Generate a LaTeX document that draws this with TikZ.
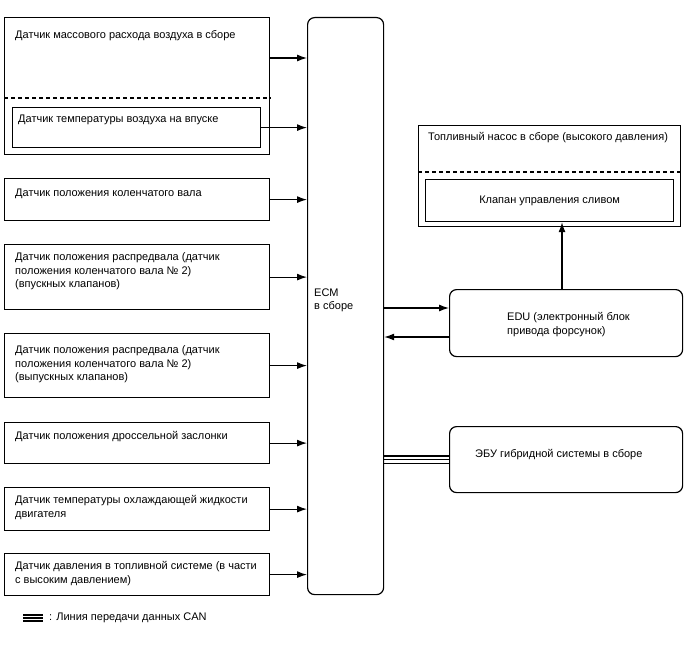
\documentclass[tikz,border=0pt]{standalone}
\usepackage{fontspec}
\setmainfont{Liberation Sans}
\usetikzlibrary{arrows.meta,calc}
\begin{document}
\begin{tikzpicture}[x=1pt,y=-1pt,
  box/.style={draw,line width=1.2pt,anchor=north west,inner sep=0pt},
  rbox/.style={box,rounded corners=7pt},
  txt/.style={anchor=north west,inner sep=0pt,align=left,font=\fontsize{11}{13.6}\selectfont},
  ctxt/.style={inner sep=0pt,align=left,font=\fontsize{11}{13.6}\selectfont},
  arr/.style={line width=1.2pt,-{Latex[length=10pt,width=7pt]}},
  ln/.style={line width=1.1pt},
  dsh/.style={line width=1.1pt,dash pattern=on 4pt off 3pt}]
\useasboundingbox (0,0) rectangle (688,658);
% ECM
\node[rbox,minimum width=76pt,minimum height=577pt] (ecm) at (307,17) {};
\node[txt] (ecmt) at (314,288.5) {ECM\\в сборе};
% MAF / IAT
\node[box,minimum width=265pt,minimum height=137pt] (maf) at (4,17) {};
\node[txt] (maft) at (15,30.5) {Датчик массового расхода воздуха в сборе};
\draw[dsh] (maf.west |- 0,98) coordinate (d1) -- (maf.east |- 0,98) coordinate (d2);
\node[box,minimum width=248pt,minimum height=40pt] (iat) at (12,107) {};
\node[txt] (iatt) at (18,114.5) {Датчик температуры воздуха на впуске};
% other sensors
\node[box,minimum width=265pt,minimum height=42pt] (crank) at (4,178) {};
\node[txt] (crankt) at (15,188.5) {Датчик положения коленчатого вала};
\node[box,minimum width=265pt,minimum height=65pt] (camin) at (4,244) {};
\node[txt] (camint) at (15,252.5) {Датчик положения распредвала (датчик\\положения коленчатого вала № 2)\\(впускных клапанов)};
\node[box,minimum width=265pt,minimum height=64pt] (camex) at (4,333) {};
\node[txt] (camext) at (15,345.5) {Датчик положения распредвала (датчик\\положения коленчатого вала № 2)\\(выпускных клапанов)};
\node[box,minimum width=265pt,minimum height=41pt] (thr) at (4,422) {};
\node[txt] (thrt) at (15,431.5) {Датчик положения дроссельной заслонки};
\node[box,minimum width=265pt,minimum height=43pt] (cool) at (4,487) {};
\node[txt] (coolt) at (15,495.5) {Датчик температуры охлаждающей жидкости\\двигателя};
\node[box,minimum width=265pt,minimum height=42pt] (fuel) at (4,553) {};
\node[txt] (fuelt) at (15,561.5) {Датчик давления в топливной системе (в части\\с высоким давлением)};
% arrows into ECM
\draw[arr] (maf.east |- 0,58) -- (ecm.west |- 0,58);
\draw[arr] (iat.east) -- (iat.east -| ecm.west);
\draw[arr] (crank.east) -- (crank.east -| ecm.west);
\draw[arr] (camin.east) -- (camin.east -| ecm.west);
\draw[arr] (camex.east) -- (camex.east -| ecm.west);
\draw[arr] (thr.east) -- (thr.east -| ecm.west);
\draw[arr] (cool.east) -- (cool.east -| ecm.west);
\draw[arr] (fuel.east) -- (fuel.east -| ecm.west);
% fuel pump
\node[box,minimum width=262pt,minimum height=101pt] (pump) at (418,125) {};
\node[txt] (pumpt) at (428,132.5) {Топливный насос в сборе (высокого давления)};
\draw[dsh] (pump.west |- 0,172) coordinate (d3) -- (pump.east |- 0,172) coordinate (d4);
\node[box,minimum width=248pt,minimum height=42pt] (valve) at (425,179) {};
\node[ctxt] (valvet) at (valve.center) {Клапан управления сливом};
% EDU
\node[rbox,minimum width=233pt,minimum height=67pt] (edu) at (449,289) {};
\node[txt] (edut) at (507,312.5) {EDU (электронный блок\\привода форсунок)};
\draw[arr] (ecm.east |- 0,308) -- (edu.west |- 0,308);
\draw[arr] (edu.west |- 0,337) -- (ecm.east |- 0,337);
\draw[arr] (edu.north -| 562,0) -- (valve.south -| 562,0);
% hybrid ECU
\node[rbox,minimum width=233pt,minimum height=66pt] (hyb) at (449,426) {};
\node[ctxt,anchor=west] (hybt) at (475,455) {ЭБУ гибридной системы в сборе};
\foreach \d in {-3.6,0,3.6}
  \draw[ln] ([yshift=\d pt]hyb.west -| ecm.east) -- ([yshift=\d pt]hyb.west);
% legend
\coordinate (lg1) at (23,618);
\coordinate (lg2) at (43,618);
\foreach \d in {-2.8,0,2.8}
  \draw[line width=1.5pt] ([yshift=\d pt]lg1) -- ([yshift=\d pt]lg2);
\node[ctxt,anchor=west] (lgt) at (49,618) {: Линия передачи данных CAN};
\end{tikzpicture}
\end{document}
